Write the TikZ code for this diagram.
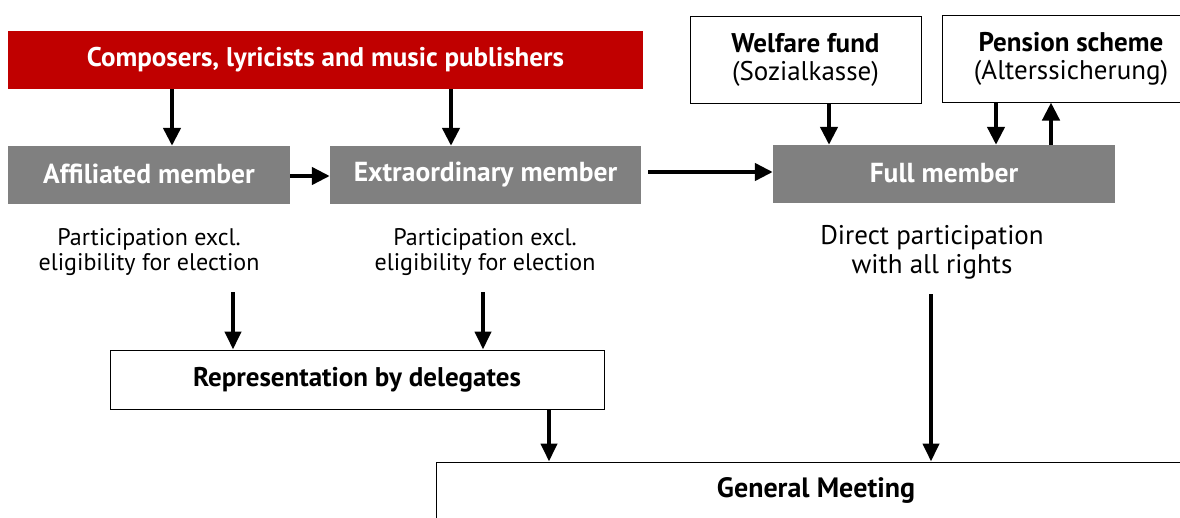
\documentclass[tikz,border=0pt]{standalone}
\usepackage{fontspec}
\setmainfont{PT Sans}
\usetikzlibrary{arrows.meta}
\definecolor{gemared}{HTML}{C00000}
\definecolor{gemagray}{HTML}{808080}
\begin{document}
\begin{tikzpicture}[x=1pt,y=-1pt,
  redbox/.style={fill=gemared,text=white,font=\fontsize{27}{30}\selectfont\bfseries,inner sep=0pt,minimum height=58pt},
  graybox/.style={fill=gemagray,text=white,font=\fontsize{27.5}{30}\selectfont\bfseries,inner sep=0pt,minimum height=58pt},
  whitebox/.style={draw=black,line width=1pt,fill=white,inner sep=0pt,align=center,font=\fontsize{27}{28}\selectfont},
  note/.style={align=center,inner sep=0pt},
  thick arrow/.style={line width=4.3pt,-{Triangle[width=17pt,length=18pt]}},
  thin arrow/.style={line width=4pt,-{Triangle[width=16pt,length=18pt]}}]
\useasboundingbox (0,0) rectangle (1180,517);
\clip (0,0) rectangle (1180,517);
% boxes
\node[redbox,minimum width=635pt] (red) at (325.5,60) {Composers, lyricists and music publishers};
\node[graybox,minimum width=282pt] (aff) at (149,175) {\raisebox{2pt}{Affiliated member}};
\node[graybox,minimum width=311pt] (ext) at (485.5,175) {\raisebox{2pt}{Extraordinary member}};
\node[graybox,minimum width=342pt] (full) at (944,174) {\raisebox{2pt}{Full member}};
\node[whitebox,minimum width=231pt,minimum height=87pt] (welf) at (805.5,59.5) {\textbf{Welfare fund}\\(Sozialkasse)};
\node[whitebox,minimum width=258pt,minimum height=87pt] (pens) at (1071,58.5) {\textbf{Pension scheme}\\(Alterssicherung)};
\node[note,font=\fontsize{24}{25}\selectfont] (t1) at (149,252) {Participation excl.\\eligibility for election};
\node[note,font=\fontsize{24}{25}\selectfont] (t2) at (485,252) {Participation excl.\\eligibility for election};
\node[note,font=\fontsize{27}{29}\selectfont] (t3) at (932,252) {Direct participation\\with all rights};
\node[whitebox,minimum width=494pt,minimum height=59pt,font=\fontsize{27}{28}\selectfont\bfseries] (rep) at (357,379.5) {Representation by delegates};
\node[whitebox,minimum width=760pt,minimum height=56pt,font=\fontsize{28}{28}\selectfont\bfseries] (gm) at (816,490) {General Meeting};
% arrows
\draw[thick arrow] (red.south -| 172,0) -- (aff.north -| 172,0);
\draw[thick arrow] (red.south -| 451,0) -- (ext.north -| 451,0);
\draw[thick arrow] (aff.east |- 0,176) -- (ext.west |- 0,176);
\draw[thick arrow] (648,172) coordinate (c1) (c1) -- (full.west |- c1);
\draw[thick arrow] (welf.south -| 829,0) -- (full.north -| 829,0);
\draw[thick arrow] (pens.south -| 996,0) -- (full.north -| 996,0);
\draw[thick arrow] (full.north -| 1051,0) -- (pens.south -| 1051,0);
\draw[thin arrow] (233,292) coordinate (c2) (c2) -- (rep.north -| c2);
\draw[thin arrow] (483,292) coordinate (c3) (c3) -- (rep.north -| c3);
\draw[thin arrow] (rep.south -| 549,0) -- (gm.north -| 549,0);
\draw[thin arrow] (931,294) coordinate (c4) (c4) -- (gm.north -| c4);
\end{tikzpicture}
\end{document}
